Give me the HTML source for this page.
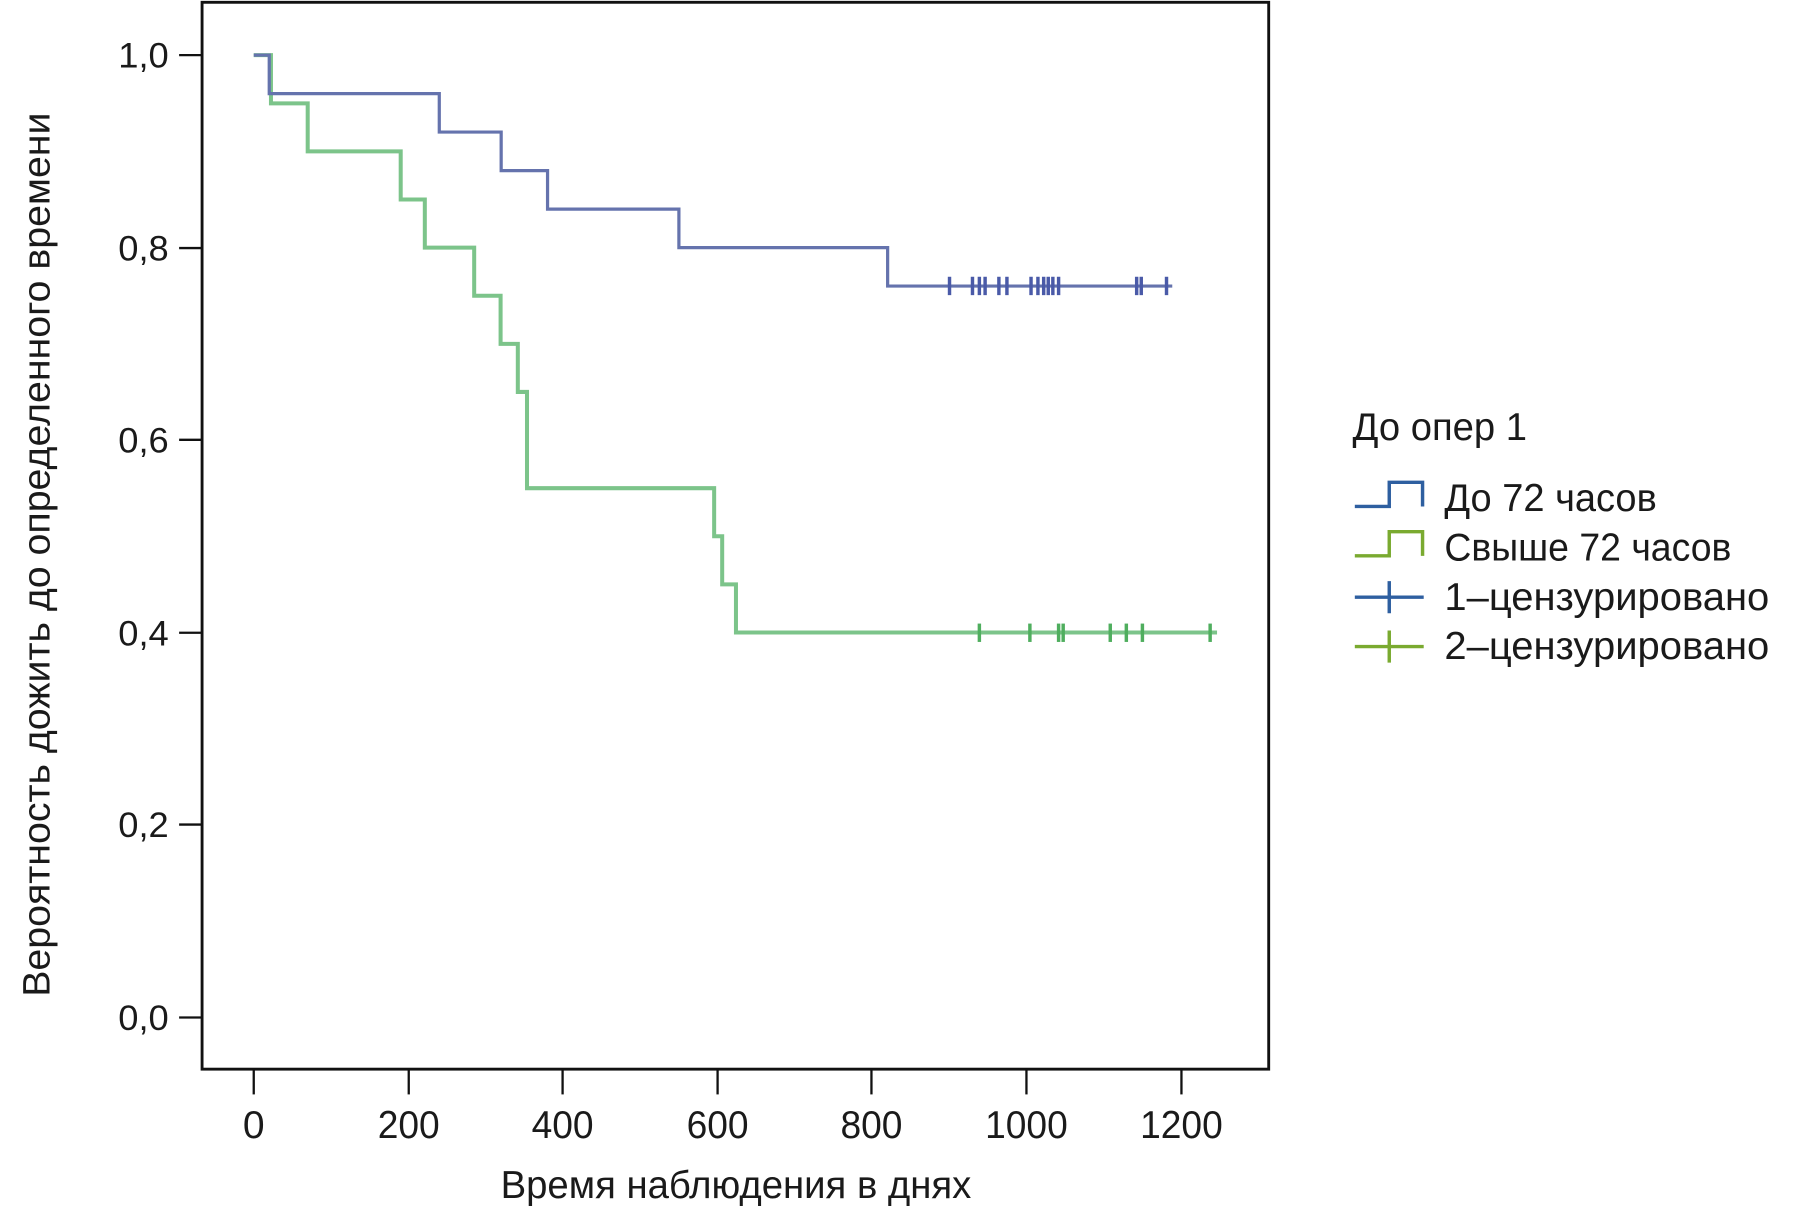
<!DOCTYPE html>
<html><head><meta charset="utf-8"><style>
html,body{margin:0;padding:0;background:#fff;}
svg{display:block;}
text{font-family:"Liberation Sans","DejaVu Sans",sans-serif;fill:#1a1a1a;}
</style></head><body>
<svg width="1798" height="1215" viewBox="0 0 1566 1058" preserveAspectRatio="none" xmlns="http://www.w3.org/2000/svg">
<rect x="176" y="2" width="929" height="929" fill="none" stroke="#111" stroke-width="2.5"/>
<g stroke="#111" stroke-width="2">
<line x1="156" y1="48" x2="176" y2="48"/><line x1="156" y1="216" x2="176" y2="216"/>
<line x1="156" y1="383" x2="176" y2="383"/><line x1="156" y1="551" x2="176" y2="551"/>
<line x1="156" y1="718" x2="176" y2="718"/><line x1="156" y1="886" x2="176" y2="886"/>
<line x1="221" y1="931" x2="221" y2="953"/><line x1="356" y1="931" x2="356" y2="953"/>
<line x1="490" y1="931" x2="490" y2="953"/><line x1="625" y1="931" x2="625" y2="953"/>
<line x1="759" y1="931" x2="759" y2="953"/><line x1="894" y1="931" x2="894" y2="953"/>
<line x1="1029" y1="931" x2="1029" y2="953"/>
</g>
<g font-size="31" text-anchor="end">
<text x="147" y="59" textLength="44" lengthAdjust="spacingAndGlyphs">1,0</text><text x="147" y="227" textLength="44" lengthAdjust="spacingAndGlyphs">0,8</text>
<text x="147" y="394" textLength="44" lengthAdjust="spacingAndGlyphs">0,6</text><text x="147" y="562" textLength="44" lengthAdjust="spacingAndGlyphs">0,4</text>
<text x="147" y="729" textLength="44" lengthAdjust="spacingAndGlyphs">0,2</text><text x="147" y="897" textLength="44" lengthAdjust="spacingAndGlyphs">0,0</text>
</g>
<g font-size="34" text-anchor="middle">
<text x="221" y="991">0</text><text x="356" y="991" textLength="54" lengthAdjust="spacingAndGlyphs">200</text>
<text x="490" y="991" textLength="54" lengthAdjust="spacingAndGlyphs">400</text><text x="625" y="991" textLength="54" lengthAdjust="spacingAndGlyphs">600</text>
<text x="759" y="991" textLength="54" lengthAdjust="spacingAndGlyphs">800</text><text x="894" y="991" textLength="72" lengthAdjust="spacingAndGlyphs">1000</text>
<text x="1029" y="991" textLength="72" lengthAdjust="spacingAndGlyphs">1200</text>
</g>
<text x="436" y="1043" font-size="34" textLength="410" lengthAdjust="spacingAndGlyphs">Время наблюдения в днях</text>
<text transform="translate(43,868) rotate(-90)" font-size="33" textLength="770" lengthAdjust="spacingAndGlyphs">Вероятность дожить до определенного времени</text>
<path d="M221,48 H236 V90 H268 V131.8 H349 V173.7 H370 V215.6 H413 V257.5 H436 V299.4 H451 V341.3 H459 V425.1 H622 V467 H629 V508.9 H641 V550.8 H1060" fill="none" stroke="#7cc48a" stroke-width="3.5"/>
<path d="M221,48 H234.5 V81.5 H382.6 V115 H436.5 V148.6 H476.9 V182.1 H591.3 V215.6 H773.1 V249.1 H1021" fill="none" stroke="#6573ad" stroke-width="2.8"/>
<g stroke="#4a5aa8" stroke-width="3">
<line x1="827" y1="241" x2="827" y2="257"/><line x1="847" y1="241" x2="847" y2="257"/>
<line x1="853" y1="241" x2="853" y2="257"/><line x1="858" y1="241" x2="858" y2="257"/>
<line x1="870" y1="241" x2="870" y2="257"/><line x1="877" y1="241" x2="877" y2="257"/>
<line x1="898" y1="241" x2="898" y2="257"/><line x1="904" y1="241" x2="904" y2="257"/>
<line x1="909" y1="241" x2="909" y2="257"/><line x1="913" y1="241" x2="913" y2="257"/>
<line x1="917" y1="241" x2="917" y2="257"/><line x1="922" y1="241" x2="922" y2="257"/>
<line x1="990" y1="241" x2="990" y2="257"/><line x1="994" y1="241" x2="994" y2="257"/>
<line x1="1016" y1="241" x2="1016" y2="257"/>
</g>
<g stroke="#4fae5e" stroke-width="3">
<line x1="853" y1="543" x2="853" y2="559"/><line x1="897" y1="543" x2="897" y2="559"/>
<line x1="922" y1="543" x2="922" y2="559"/><line x1="926" y1="543" x2="926" y2="559"/>
<line x1="967" y1="543" x2="967" y2="559"/><line x1="981" y1="543" x2="981" y2="559"/>
<line x1="995" y1="543" x2="995" y2="559"/><line x1="1054" y1="543" x2="1054" y2="559"/>
</g>
<text x="1178" y="383" font-size="34" textLength="152" lengthAdjust="spacingAndGlyphs">До опер 1</text>
<path d="M1180,441 H1210 V420 H1239 V441" fill="none" stroke="#2e5fa0" stroke-width="3"/>
<path d="M1180,484 H1210 V463 H1239 V484" fill="none" stroke="#7aaa30" stroke-width="3"/>
<path d="M1180,520 H1240 M1210,506 V534" stroke="#2e5fa0" stroke-width="3"/>
<path d="M1180,563 H1240 M1210,549 V577" stroke="#7aaa30" stroke-width="3"/>
<g font-size="34">
<text x="1258" y="445" textLength="185" lengthAdjust="spacingAndGlyphs">До 72 часов</text>
<text x="1258" y="488" textLength="250" lengthAdjust="spacingAndGlyphs">Свыше 72 часов</text>
<text x="1258" y="531" textLength="283" lengthAdjust="spacingAndGlyphs">1–цензурировано</text>
<text x="1258" y="574" textLength="283" lengthAdjust="spacingAndGlyphs">2–цензурировано</text>
</g>
</svg>
</body></html>
